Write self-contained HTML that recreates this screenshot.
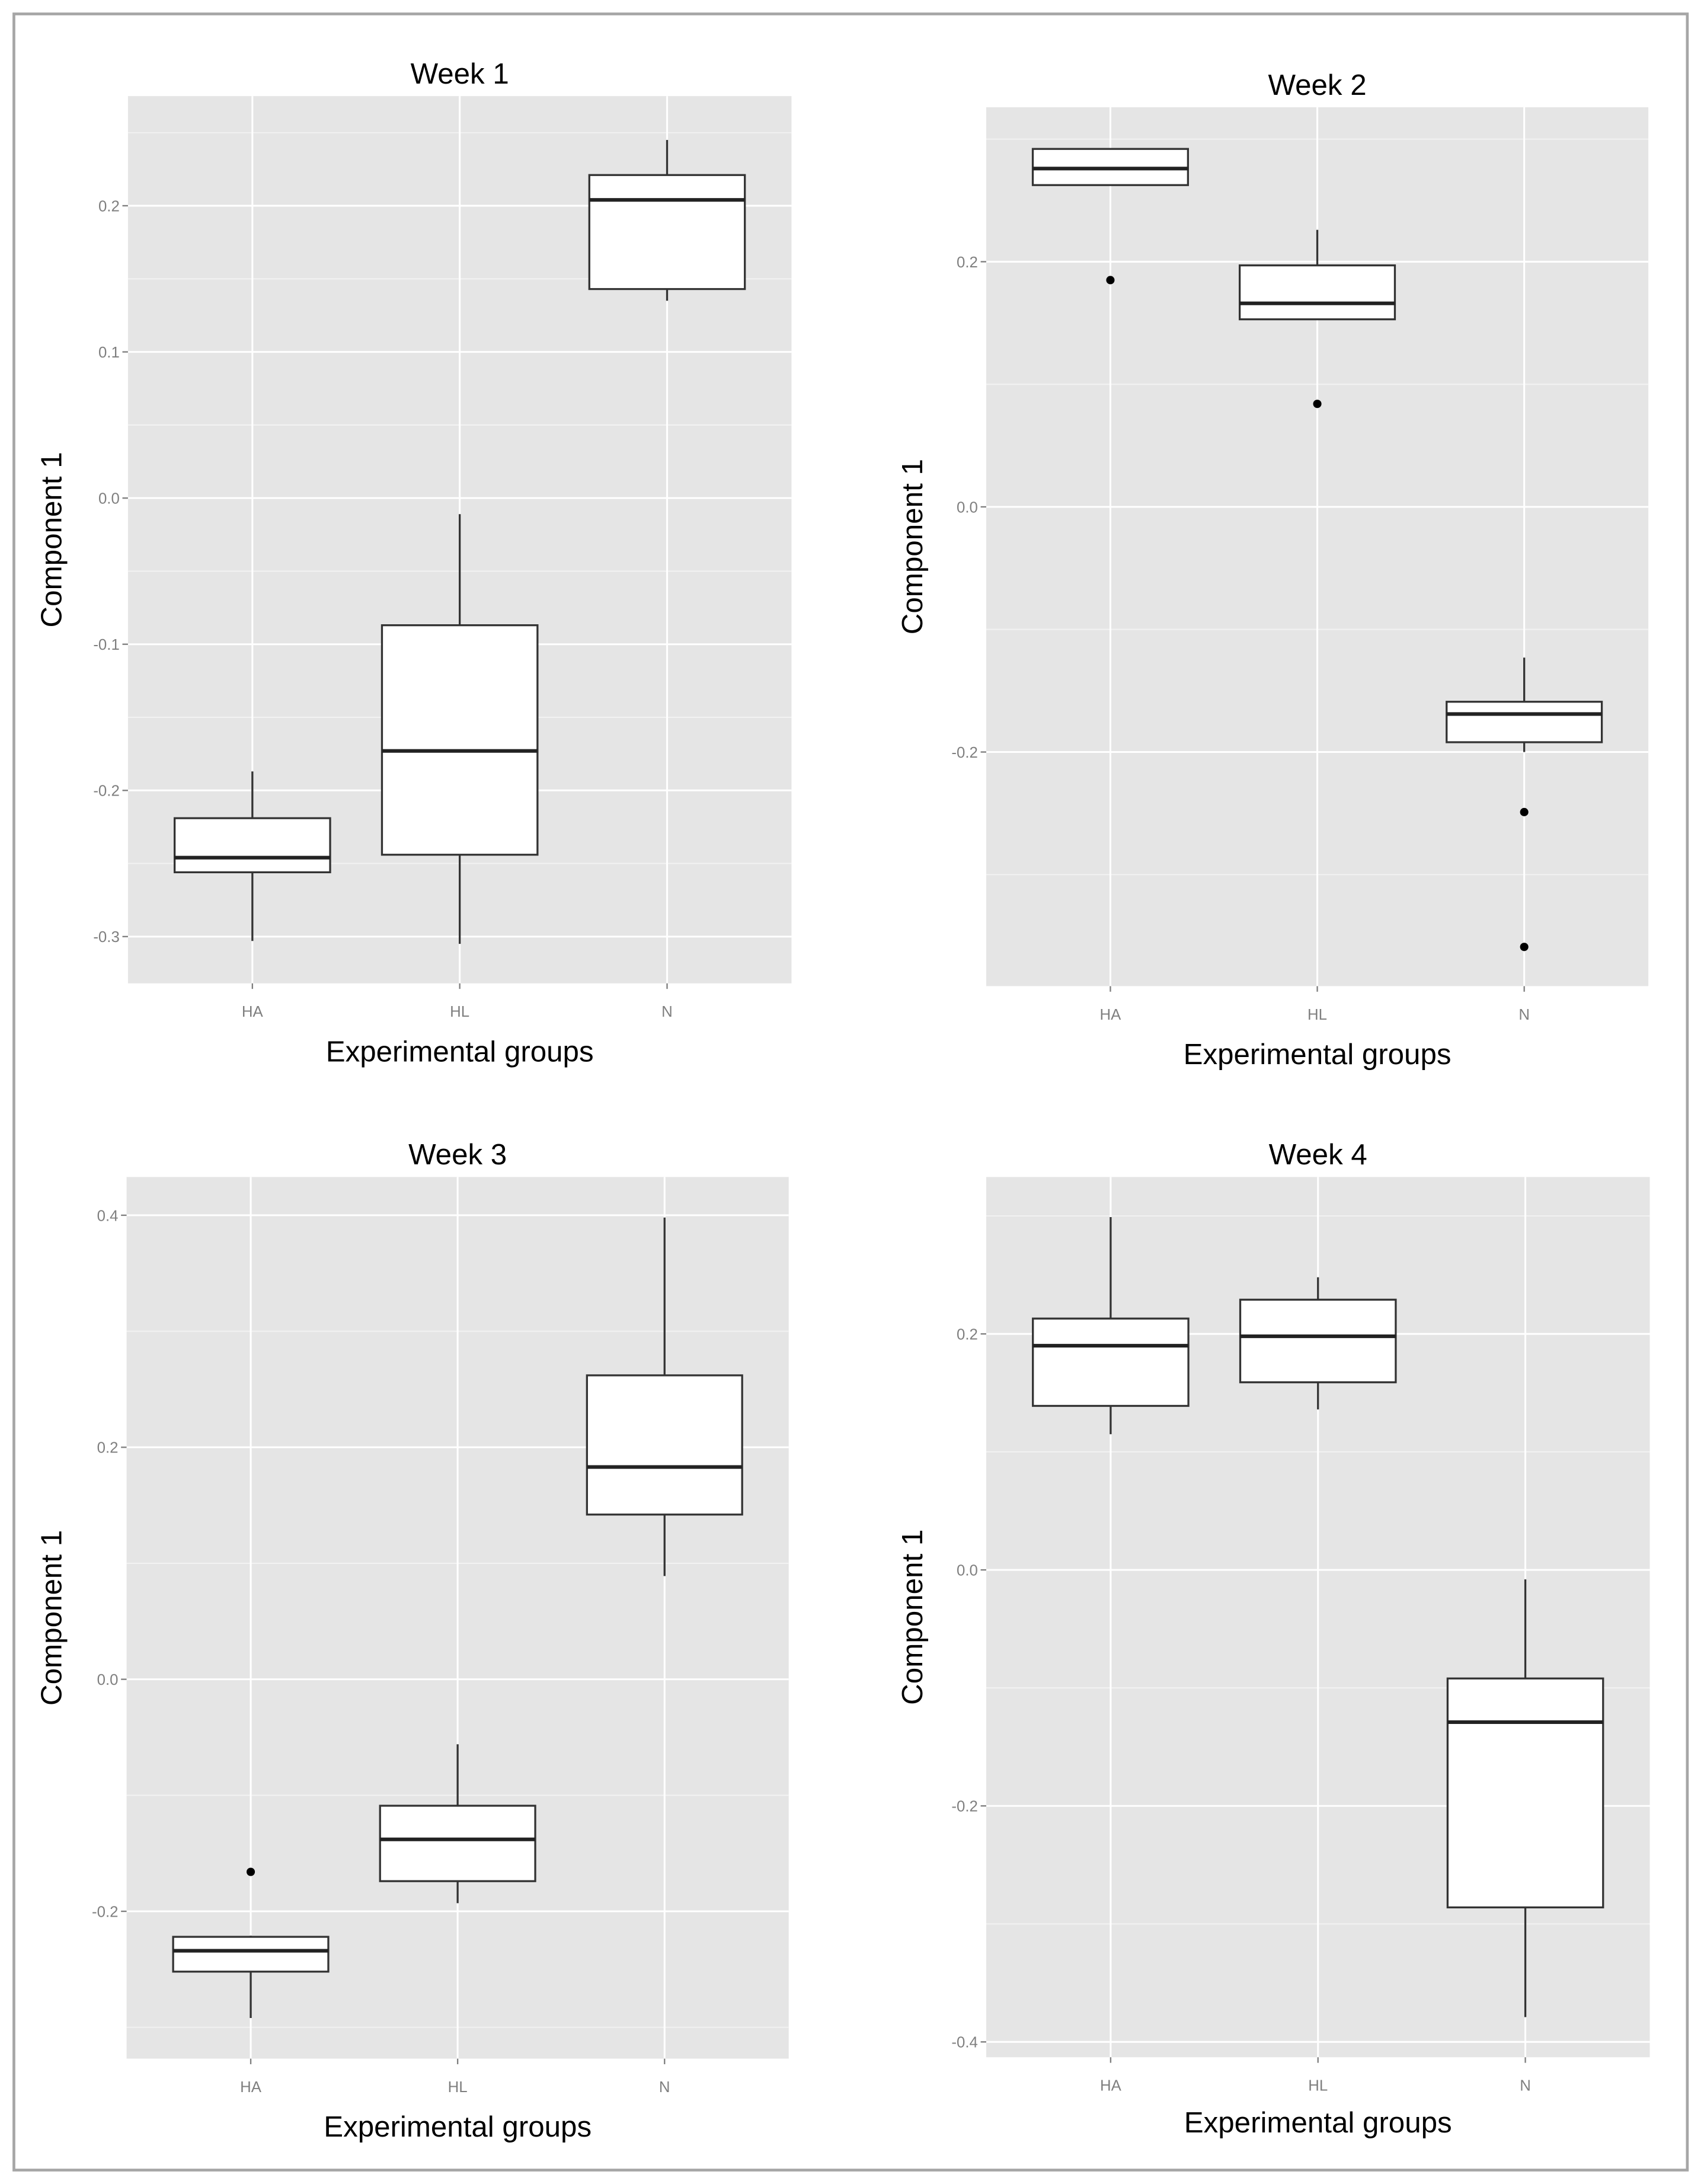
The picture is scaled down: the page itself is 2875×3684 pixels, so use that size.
<!DOCTYPE html>
<html><head><meta charset="utf-8"><style>
html,body{margin:0;padding:0;background:#fff;}
svg{display:block;}
</style></head><body>
<svg id="chart" width="2875" height="3684" viewBox="0 0 1225 1568" preserveAspectRatio="none" xmlns="http://www.w3.org/2000/svg">
<rect x="10" y="10" width="1203" height="1548" fill="#fff" stroke="#a6a6a6" stroke-width="2"/>
</svg>
<script>
const categories = ["HA","HL","N"];
const titles = ["Week 1","Week 2","Week 3","Week 4"];
// per panel: [min, q1, median, q3, max] for HA, HL, N
const week1Stats = [[-0.303,-0.256,-0.246,-0.219,-0.187],[-0.305,-0.244,-0.173,-0.087,-0.011],[0.135,0.143,0.204,0.221,0.245]];
const week2Stats = [[0.2625,0.2625,0.276,0.292,0.292],[0.153,0.153,0.166,0.197,0.226],[-0.200,-0.192,-0.169,-0.159,-0.123]];
const week3Stats = [[-0.292,-0.252,-0.234,-0.222,-0.221],[-0.193,-0.174,-0.138,-0.109,-0.056],[0.089,0.142,0.183,0.262,0.398]];
const week4Stats = [[0.115,0.139,0.190,0.213,0.299],[0.136,0.159,0.198,0.229,0.248],[-0.379,-0.286,-0.129,-0.092,-0.008]];
const week1Outliers = [[],[],[]];
const week2Outliers = [[0.185],[0.084],[-0.249,-0.359]];
const week3Outliers = [[-0.166],[],[]];
const week4Outliers = [[],[],[]];
const week1Ticks = [0.2,0.1,0.0,-0.1,-0.2,-0.3];
const week2Ticks = [0.2,0.0,-0.2];
const week3Ticks = [0.4,0.2,0.0,-0.2];
const week4Ticks = [0.2,0.0,-0.2,-0.4];
const week1Domain = [-0.332,0.275];
const week2Domain = [-0.391,0.326];
const week3Domain = [-0.327,0.433];
const week4Domain = [-0.413,0.333];

const panels = [
 {x0:92,x1:569,y0:69,y1:706,titleY:60,xlabY:762,ytX:44,stats:week1Stats,out:week1Outliers,ticks:week1Ticks,dom:week1Domain,step:0.1},
 {x0:709,x1:1185,y0:77,y1:708,titleY:68,xlabY:764,ytX:663,stats:week2Stats,out:week2Outliers,ticks:week2Ticks,dom:week2Domain,step:0.2},
 {x0:91,x1:567,y0:845,y1:1478,titleY:836,xlabY:1534,ytX:44,stats:week3Stats,out:week3Outliers,ticks:week3Ticks,dom:week3Domain,step:0.2},
 {x0:709,x1:1186,y0:845,y1:1477,titleY:836,xlabY:1531,ytX:663,stats:week4Stats,out:week4Outliers,ticks:week4Ticks,dom:week4Domain,step:0.2}
];
const NS="http://www.w3.org/2000/svg";
const svg=document.getElementById('chart');
function mk(tag,attrs,parent){const e=document.createElementNS(NS,tag);for(const k in attrs)e.setAttribute(k,attrs[k]);(parent||svg).appendChild(e);return e;}
panels.forEach((p,pi)=>{
 const g=mk('g',{});
 
 
 const ys=v=>p.y1-(v-p.dom[0])/(p.dom[1]-p.dom[0])*(p.y1-p.y0);
 const unit=(p.x1-p.x0)/3.2;
 const xs=i=>p.x0+(i+1-0.4)*unit;
 const bg=mk('rect',{x:p.x0,y:p.y0,width:p.x1-p.x0,height:p.y1-p.y0,fill:'#e5e5e5'},g);
 
 
 p.ticks.forEach(t=>{const m=t+p.step/2;[m,t-p.step/2].forEach(v=>{const y=ys(v);if(y>p.y0&&y<p.y1){mk('line',{x1:p.x0,x2:p.x1,y1:y,y2:y,stroke:'#f2f2f2','stroke-width':0.8},g);}});});
 p.ticks.forEach(t=>{const y=ys(t);
  const gl=mk('line',{x1:p.x0,x2:p.x1,y1:y,y2:y,stroke:'#fff','stroke-width':1.3},g);
  
  
  mk('line',{x1:p.x0-4,x2:p.x0,y1:y,y2:y,stroke:'#7f7f7f','stroke-width':1},g);
  const tl=mk('text',{x:p.x0-6,y:y+4,'text-anchor':'end','font-size':11,fill:'#7f7f7f','font-family':'Liberation Sans, sans-serif'},g);
  tl.textContent=(t===0?'0.0':t.toFixed(1));
  
  
 });
 categories.forEach((c,i)=>{const x=xs(i);
  mk('line',{x1:x,x2:x,y1:p.y0,y2:p.y1,stroke:'#fff','stroke-width':1.3},g);
  mk('line',{x1:x,x2:x,y1:p.y1,y2:p.y1+4,stroke:'#7f7f7f','stroke-width':1},g);
  const xl=mk('text',{x:x,y:p.y1+24,'text-anchor':'middle','font-size':11,fill:'#7f7f7f','font-family':'Liberation Sans, sans-serif'},g);
  xl.textContent=c;
  
  
 });
 categories.forEach((c,i)=>{const s=p.stats[i];const x=xs(i);const hw=0.375*unit;
  const bx=mk('g',{},g);
  
  
  mk('line',{x1:x,x2:x,y1:ys(s[4]),y2:ys(s[3]),stroke:'#333','stroke-width':1.4},bx);
  mk('line',{x1:x,x2:x,y1:ys(s[1]),y2:ys(s[0]),stroke:'#333','stroke-width':1.4},bx);
  mk('rect',{x:x-hw,y:ys(s[3]),width:2*hw,height:Math.max(ys(s[1])-ys(s[3]),0.5),fill:'#fff',stroke:'#333','stroke-width':1.4},bx);
  mk('line',{x1:x-hw,x2:x+hw,y1:ys(s[2]),y2:ys(s[2]),stroke:'#222','stroke-width':2.6},bx);
  p.out[i].forEach(v=>{const o=mk('circle',{cx:x,cy:ys(v),r:3,fill:'#000'},bx);
   
   });
 });
 const tt=mk('text',{x:(p.x0+p.x1)/2,y:p.titleY,'text-anchor':'middle','font-size':21,fill:'#000','font-family':'Liberation Sans, sans-serif'},g);
 tt.textContent=titles[pi];
 
 
 const xt=mk('text',{x:(p.x0+p.x1)/2,y:p.xlabY,'text-anchor':'middle','font-size':21,fill:'#000','font-family':'Liberation Sans, sans-serif'},g);
 xt.textContent='Experimental groups';
 
 
 const cy=(p.y0+p.y1)/2;
 const yt=mk('text',{x:p.ytX,y:cy,'text-anchor':'middle','font-size':21,fill:'#000','font-family':'Liberation Sans, sans-serif',transform:'rotate(-90 '+p.ytX+' '+cy+')'},g);
 yt.textContent='Component 1';
 
 
});
</script>
</body></html>
